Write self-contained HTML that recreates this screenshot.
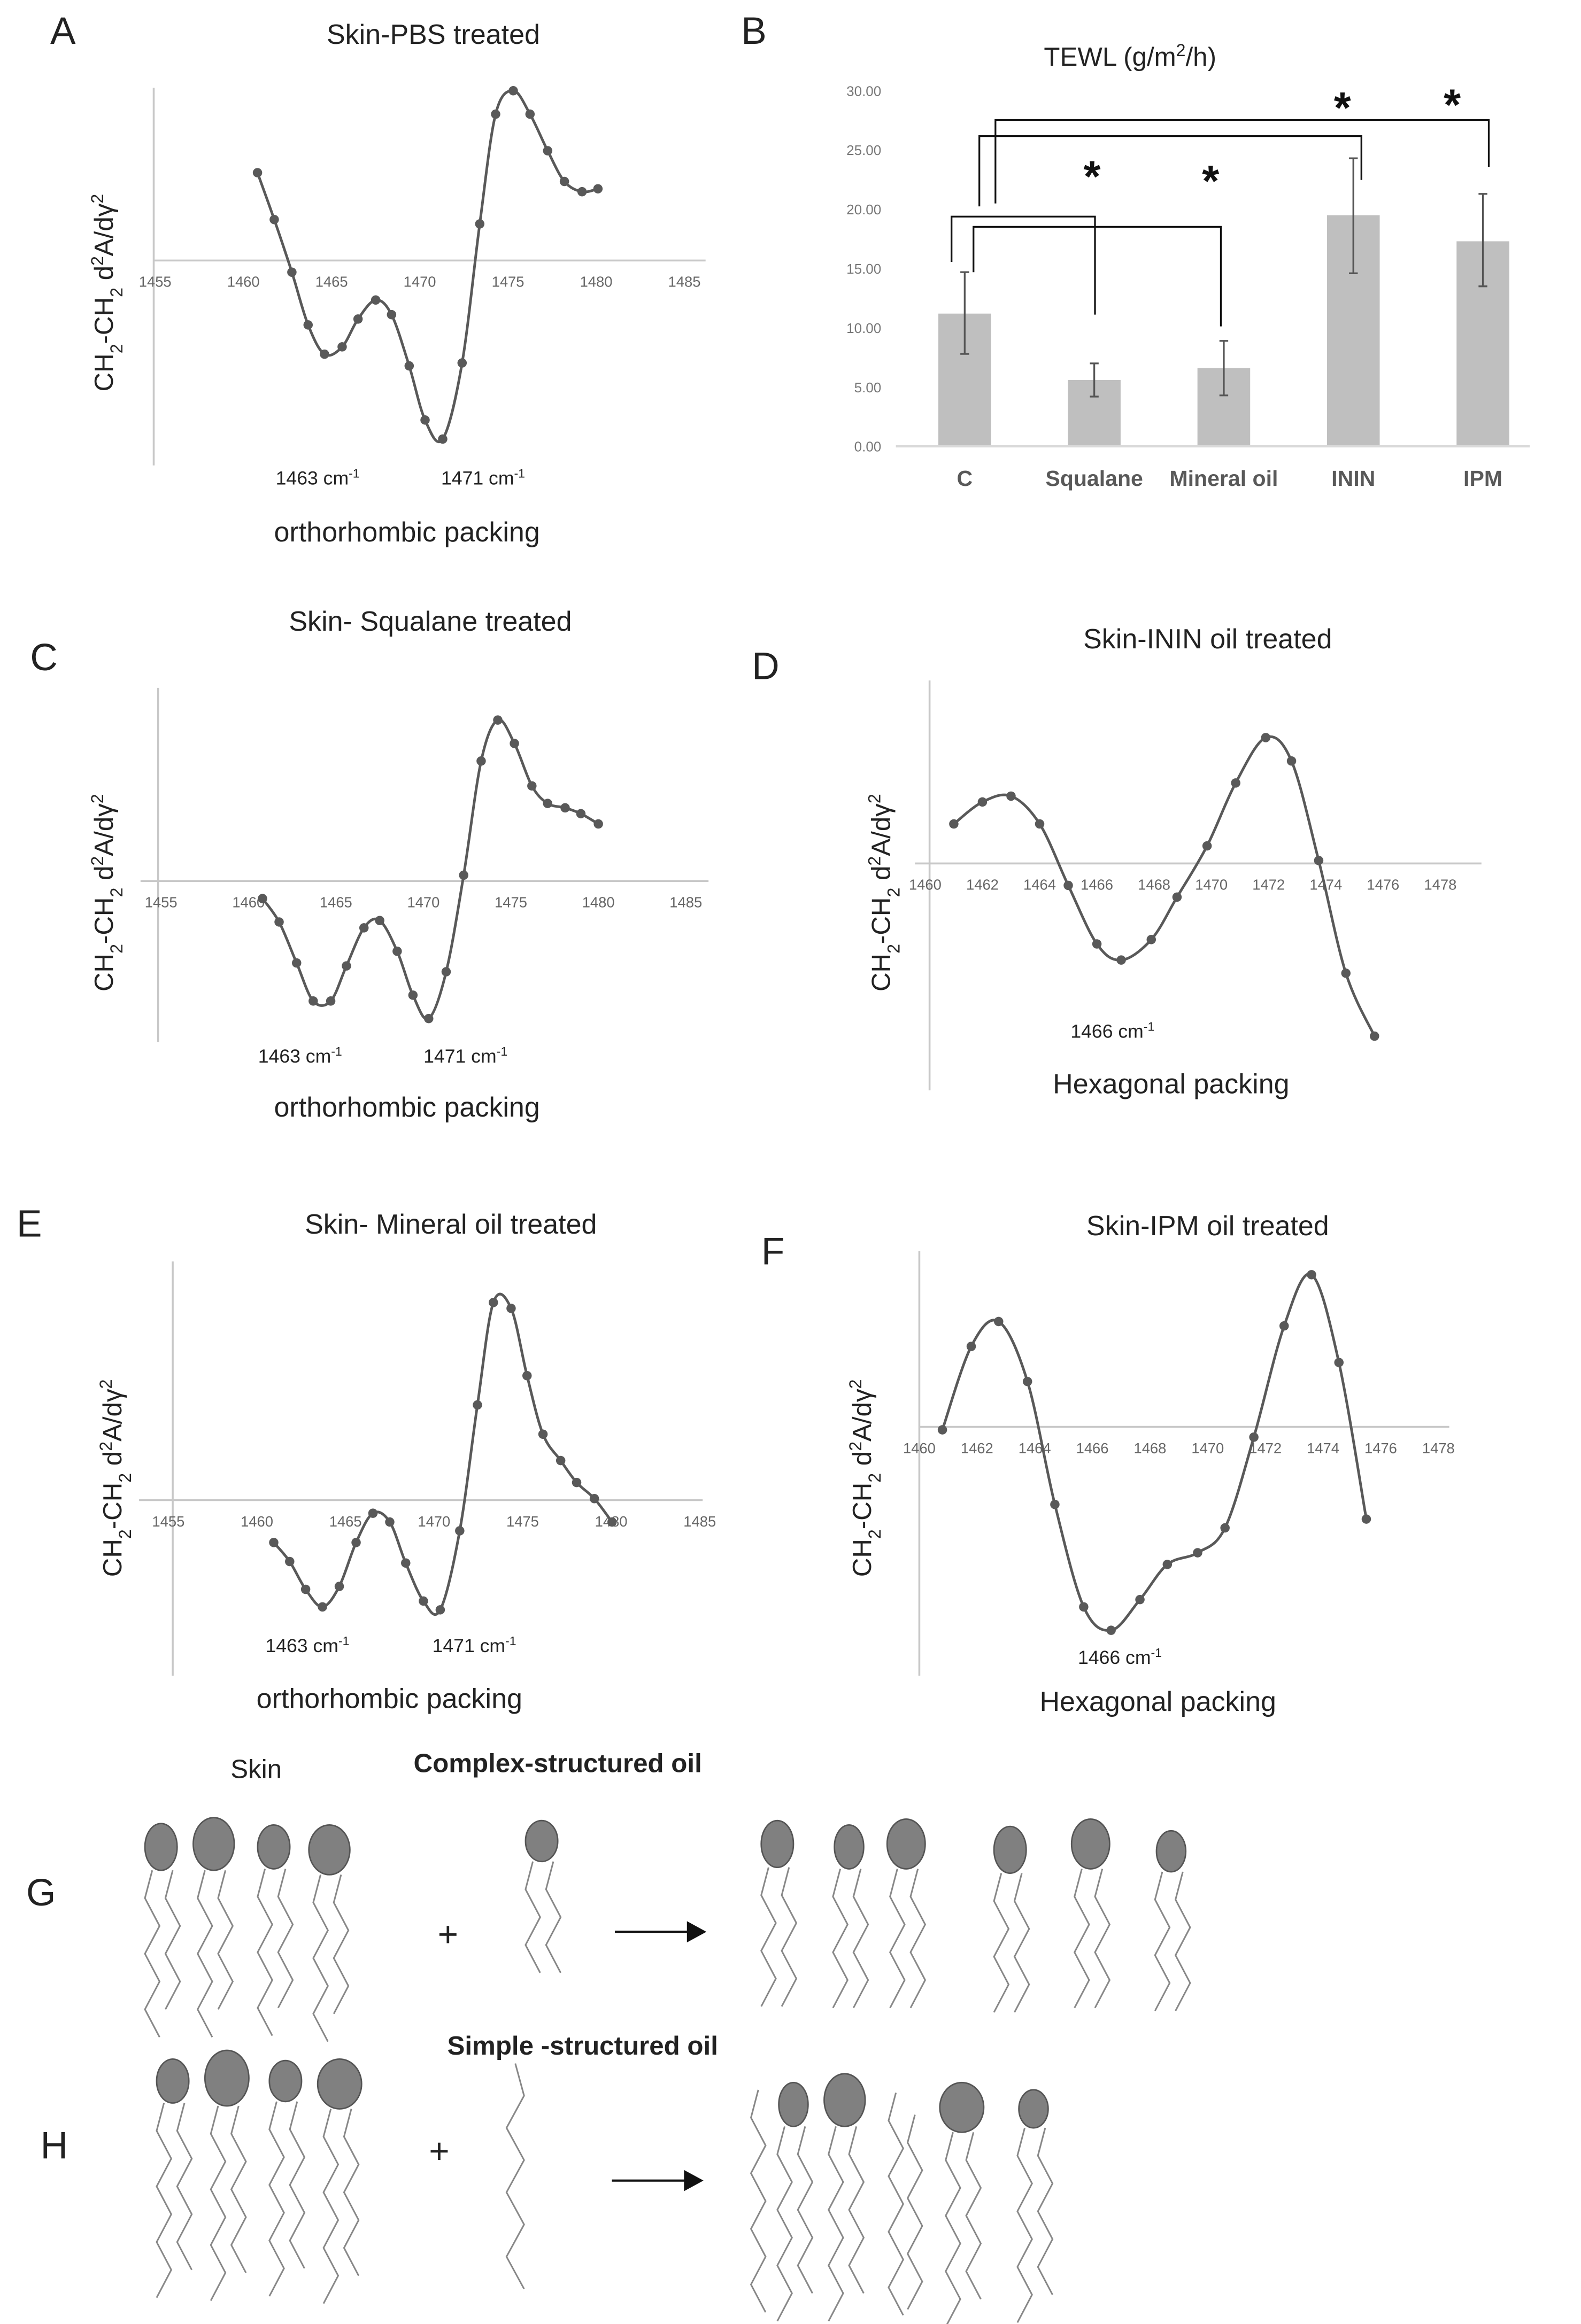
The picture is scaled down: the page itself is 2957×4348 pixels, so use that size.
<!DOCTYPE html>
<html><head><meta charset="utf-8"><style>
html,body{margin:0;padding:0;background:#fff;}
svg{display:block;}
text{font-family:"Liberation Sans",sans-serif;}
</style></head><body>
<svg id="fig" xmlns="http://www.w3.org/2000/svg" width="2957" height="4348" viewBox="0 0 1080 1588" preserveAspectRatio="none">
<rect x="0" y="0" width="1080" height="1588" fill="#fff"/>
</svg>
<script>
// ---- Panel A data (Skin-PBS)
const aWn=[1460.8,1461.75,1462.75,1463.67,1464.6,1465.6,1466.5,1467.5,1468.4,1469.4,1470.3,1471.3,1472.4,1473.4,1474.3,1475.3,1476.25,1477.25,1478.2,1479.2,1480.1];
const aVal=[0.60,0.28,-0.08,-0.44,-0.64,-0.59,-0.40,-0.27,-0.37,-0.72,-1.09,-1.22,-0.70,0.25,1.00,1.16,1.00,0.75,0.54,0.47,0.49];
// ---- Panel C data (Squalane)
const cWn=[1460.8,1461.75,1462.75,1463.7,1464.7,1465.6,1466.6,1467.5,1468.5,1469.4,1470.3,1471.3,1472.3,1473.3,1474.25,1475.2,1476.2,1477.1,1478.1,1479.0,1480.0];
const cVal=[-0.12,-0.28,-0.56,-0.82,-0.82,-0.58,-0.32,-0.27,-0.48,-0.78,-0.94,-0.62,0.04,0.82,1.10,0.94,0.65,0.53,0.50,0.46,0.39];
// ---- Panel D data (ININ)
const dWn=[1461.0,1462.0,1463.0,1464.0,1465.0,1466.0,1466.85,1467.9,1468.8,1469.85,1470.85,1471.9,1472.8,1473.75,1474.7,1475.7];
const dVal=[0.27,0.42,0.46,0.27,-0.15,-0.55,-0.66,-0.52,-0.23,0.12,0.55,0.86,0.70,0.02,-0.75,-1.18];
// ---- Panel E data (Mineral oil)
const eWn=[1460.95,1461.85,1462.75,1463.7,1464.65,1465.6,1466.55,1467.5,1468.4,1469.4,1470.35,1471.45,1472.45,1473.35,1474.35,1475.25,1476.15,1477.15,1478.05,1479.05,1480.05];
const eVal=[-0.29,-0.42,-0.61,-0.73,-0.59,-0.29,-0.09,-0.15,-0.43,-0.69,-0.75,-0.21,0.65,1.35,1.31,0.85,0.45,0.27,0.12,0.01,-0.15];
// ---- Panel F data (IPM)
const fWn=[1460.8,1461.8,1462.75,1463.75,1464.7,1465.7,1466.65,1467.65,1468.6,1469.65,1470.6,1471.6,1472.65,1473.6,1474.55,1475.5];
const fVal=[-0.02,0.55,0.72,0.31,-0.53,-1.23,-1.39,-1.18,-0.94,-0.86,-0.69,-0.07,0.69,1.04,0.44,-0.63];
const ortTicks=[1455,1460,1465,1470,1475,1480,1485];
const hexTicks=[1460,1462,1464,1466,1468,1470,1472,1474,1476,1478];
// ---- Panel B data (TEWL)
const bCats=["C","Squalane","Mineral oil","ININ","IPM"];
const bVals=[11.2,5.6,6.6,19.5,17.3];
const bErrLo=[7.8,4.2,4.3,14.6,13.5];
const bErrHi=[14.7,7.0,8.9,24.3,21.3];
const bTicks=[0,5,10,15,20,25,30];

const NS="http://www.w3.org/2000/svg";
const svg=document.getElementById('fig');
function mk(tag,attrs,parent){const e=document.createElementNS(NS,tag);for(const k in attrs)e.setAttribute(k,attrs[k]);(parent||svg).appendChild(e);return e;}
function txt(x,y,s,size,opts,parent){opts=opts||{};const t=mk('text',{x:x,y:y,'font-size':size,fill:opts.fill||'#222','text-anchor':opts.anchor||'middle','font-weight':opts.weight||'normal'},parent);if(opts.rot)t.setAttribute('transform','rotate(-90 '+x+' '+y+')');t.textContent=s;return t;}
function richTxt(x,y,parts,size,opts,parent){opts=opts||{};const t=mk('text',{x:x,y:y,'font-size':size,fill:opts.fill||'#222','text-anchor':opts.anchor||'middle'},parent);if(opts.rot)t.setAttribute('transform','rotate(-90 '+x+' '+y+')');
 parts.forEach(p=>{const ts=document.createElementNS(NS,'tspan');if(p[1]==='sup'){ts.setAttribute('baseline-shift','super');ts.setAttribute('font-size',size*0.65);}else if(p[1]==='sub'){ts.setAttribute('baseline-shift','sub');ts.setAttribute('font-size',size*0.65);}ts.textContent=p[0];t.appendChild(ts);});return t;}

function smoothPath(pts){let d='M'+pts[0][0]+','+pts[0][1];for(let i=0;i<pts.length-1;i++){const p0=pts[i-1]||pts[i],p1=pts[i],p2=pts[i+1],p3=pts[i+2]||p2;const c1=[p1[0]+(p2[0]-p0[0])/6,p1[1]+(p2[1]-p0[1])/6],c2=[p2[0]-(p3[0]-p1[0])/6,p2[1]-(p3[1]-p1[1])/6];d+=' C'+c1[0]+','+c1[1]+' '+c2[0]+','+c2[1]+' '+p2[0]+','+p2[1];}return d;}

function spectrum(cfg,wn,val,ticks){
 const g=mk('g',{});
 
 
 const xs=v=>cfg.x0+(v-cfg.t0)*cfg.ppu, ys=v=>cfg.axY-v*100;
 const t1=txt(cfg.lx,cfg.ly,cfg.letter,26,{},g);
 const t2=txt(cfg.tx,cfg.ty,cfg.title,19,{},g);
 const va=mk('line',{x1:cfg.vx,y1:cfg.vTop,x2:cfg.vx,y2:cfg.vBot,stroke:'#c8c8c8','stroke-width':1.3},g);
 
 const ha=mk('line',{x1:cfg.hx1,y1:cfg.axY,x2:cfg.hx2,y2:cfg.axY,stroke:'#c8c8c8','stroke-width':1.3},g);
 
 ticks.forEach(tk=>{const t=txt(xs(tk),cfg.axY+18,String(tk),10,{fill:'#666'},g);});
 const yl=richTxt(cfg.ylx,cfg.yly,[['CH'],['2','sub'],['-CH'],['2','sub'],[' d'],['2','sup'],['A/dγ'],['2','sup']],18,{rot:true},g);
 
 const pts=wn.map((w,i)=>[xs(w),ys(val[i])]);
 const p=mk('path',{d:smoothPath(pts),fill:'none',stroke:'#595959','stroke-width':1.8},g);
 
 pts.forEach(q=>{const c=mk('circle',{cx:q[0],cy:q[1],r:3.2,fill:'#595959'},g);});
 cfg.peaks.forEach(pk=>{const t=richTxt(pk[0],pk[1],[[pk[2]+' cm'],['-1','sup']],13,{},g);});
 const pl=txt(cfg.px,cfg.py,cfg.pack,19,{},g);
}

spectrum({name:'panel-a-chart',letter:'A',lx:43,ly:30,title:'Skin-PBS treated',tx:296,ty:30,x0:106,t0:1455,ppu:12.05,axY:178,vx:105,vTop:60,vBot:318,hx1:105,hx2:482,ylx:77,yly:200,peaks:[[217,331,'1463'],[330,331,'1471']],pack:'orthorhombic packing',px:278,py:370},aWn,aVal,ortTicks);
spectrum({name:'panel-c-chart',letter:'C',lx:30,ly:458,title:'Skin- Squalane treated',tx:294,ty:431,x0:110,t0:1455,ppu:11.95,axY:602,vx:108,vTop:470,vBot:712,hx1:96,hx2:484,ylx:77,yly:610,peaks:[[205,726,'1463'],[318,726,'1471']],pack:'orthorhombic packing',px:278,py:763},cWn,cVal,ortTicks);
spectrum({name:'panel-d-chart',letter:'D',lx:523,ly:464,title:'Skin-ININ oil treated',tx:825,ty:443,x0:632,t0:1460,ppu:19.55,axY:590,vx:635,vTop:465,vBot:745,hx1:625,hx2:1012,ylx:608,yly:610,peaks:[[760,709,'1466']],pack:'Hexagonal packing',px:800,py:747},dWn,dVal,hexTicks);
spectrum({name:'panel-e-chart',letter:'E',lx:20,ly:845,title:'Skin- Mineral  oil treated',tx:308,ty:843,x0:115,t0:1455,ppu:12.1,axY:1025,vx:118,vTop:862,vBot:1145,hx1:95,hx2:480,ylx:83,yly:1010,peaks:[[210,1129,'1463'],[324,1129,'1471']],pack:'orthorhombic packing',px:266,py:1167},eWn,eVal,ortTicks);
spectrum({name:'panel-f-chart',letter:'F',lx:528,ly:864,title:'Skin-IPM oil treated',tx:825,ty:844,x0:628,t0:1460,ppu:19.7,axY:975,vx:628,vTop:855,vBot:1145,hx1:628,hx2:990,ylx:595,yly:1010,peaks:[[765,1137,'1466']],pack:'Hexagonal packing',px:791,py:1169},fWn,fVal,hexTicks);

// ---- Panel B bar chart
(function(){
 const g=mk('g',{});
 
 
 const base=305,ppu=8.1,x0=659,step=88.5,bw=36;
 const ys=v=>base-v*ppu, xs=i=>x0+i*step;
 const L=txt(515,30,'B',26,{},g);
 const T=richTxt(772,45,[['TEWL (g/m'],['2','sup'],['/h)']],18,{},g);
 bTicks.forEach(v=>{const t=txt(602,ys(v)+3.5,v.toFixed(2),9.5,{fill:'#777',anchor:'end'},g);});
 bVals.forEach((v,i)=>{
  const r=mk('rect',{x:xs(i)-bw/2,y:ys(v),width:bw,height:v*ppu,fill:'#bfbfbf'},g);
  
  
  const e=mk('path',{d:'M'+xs(i)+','+ys(bErrLo[i])+'V'+ys(bErrHi[i])+'M'+(xs(i)-3)+','+ys(bErrLo[i])+'h6M'+(xs(i)-3)+','+ys(bErrHi[i])+'h6',stroke:'#555','stroke-width':1.2,fill:'none'},g);
  
  const c=txt(xs(i),332,bCats[i],15,{fill:'#595959',weight:'bold'},g);
 });
 const ax=mk('line',{x1:612,y1:base,x2:1045,y2:base,stroke:'#d9d9d9','stroke-width':1.5},g);
 
 const br=[[650,179,148,748,215],[665,186,155,834,223],[669,141,93,930,123],[680,139,82,1017,114]];
 br.forEach(b=>{const p=mk('path',{d:'M'+b[0]+','+b[1]+'V'+b[2]+'H'+b[3]+'V'+b[4],stroke:'#111','stroke-width':1.2,fill:'none'},g);});
 [[746,131],[827,134],[917,84],[992,82]].forEach(a=>{const t=txt(a[0],a[1],'*',30,{fill:'#111',weight:'bold'},g);});
})();

// ---- Panels G/H diagrams
function zig(g,x,y0,y1,amp,seg,startDir){let d='M'+x+','+y0,dir=startDir||1,y=y0;let cx=x;while(y<y1){y+=seg;cx=x+dir*amp;d+=' L'+cx+','+y;dir=-dir;}
 const p=mk('path',{d:d,stroke:'#888','stroke-width':1.1,fill:'none'},g);}
function lipid(g,x,y,rx,ry,len){zig(g,x-6,y+ry,y+ry+len,5,19,-1);zig(g,x+8,y+ry,y+ry+len-6,5,19,-1);
 const e=mk('ellipse',{cx:x,cy:y,rx:rx,ry:ry,fill:'#808080',stroke:'#555','stroke-width':1},g);}
(function(){
 const g=mk('g',{});
 
 
 const a=txt(28,1302,'G',26,{},g);
 const s=txt(175,1215,'Skin',18,{},g);
 const c=txt(381,1211,'Complex-structured oil',18,{weight:'bold'},g);
 [[110,1262,11,16],[146,1260,14,18],[187,1262,11,15],[225,1264,14,17]].forEach(h=>lipid(g,h[0],h[1],h[2],h[3],100));
 lipid(g,370,1258,11,14,75);
 const p=txt(306,1330,'+',24,{},g);
 const ar=mk('path',{d:'M420,1320H470M470,1314L481,1320L470,1326Z',stroke:'#111','stroke-width':1.5,fill:'#111'},g);
 [[531,1260,11,16],[580,1262,10,15],[619,1260,13,17],[690,1264,11,16],[745,1260,13,17],[800,1265,10,14]].forEach(h=>lipid(g,h[0],h[1],h[2],h[3],95));
})();
(function(){
 const g=mk('g',{});
 
 
 const a=txt(37,1475,'H',26,{},g);
 const c=txt(398,1404,'Simple -structured oil',18,{weight:'bold'},g);
 [[118,1422,11,15],[155,1420,15,19],[195,1422,11,14],[232,1424,15,17]].forEach(h=>lipid(g,h[0],h[1],h[2],h[3],115));
 zig(g,352,1410,1550,6,22,1);
 const p=txt(300,1478,'+',24,{},g);
 const ar=mk('path',{d:'M418,1490H468M468,1484L479,1490L468,1496Z',stroke:'#111','stroke-width':1.5,fill:'#111'},g);
 [[542,1438,10,15],[577,1435,14,18],[657,1440,15,17],[706,1441,10,13]].forEach(h=>lipid(g,h[0],h[1],h[2],h[3],115));
 zig(g,518,1428,1570,5,19,-1);zig(g,612,1430,1570,5,19,-1);zig(g,625,1445,1575,5,19,-1);
})();
</script>
</body></html>
